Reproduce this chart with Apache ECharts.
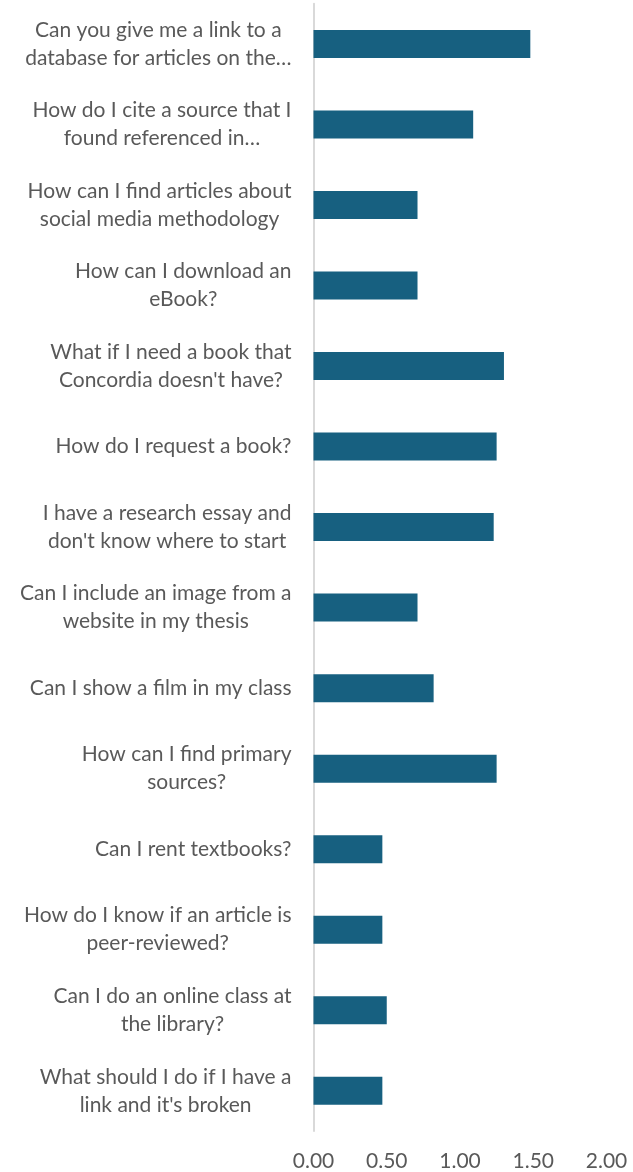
<!DOCTYPE html>
<html>
<head>
<meta charset="utf-8">
<style>
  html, body { margin: 0; padding: 0; background: #ffffff; }
  #chart { width: 633px; height: 1172px; }
</style>
<script src="https://cdn.jsdelivr.net/npm/echarts@6/dist/echarts.min.js"></script>
</head>
<body>
<div id="chart"></div>
<script>
// Questions, listed from top to bottom
var questions = [
  "Can you give me a link to a\ndatabase for articles on the…",
  "How do I cite a source that I\nfound referenced in…",
  "How can I find articles about\nsocial media methodology",
  "How can I download an\neBook?",
  "What if I need a book that\nConcordia doesn't have?",
  "How do I request a book?",
  "I have a research essay and\ndon't know where to start",
  "Can I include an image from a\nwebsite in my thesis",
  "Can I show a film in my class",
  "How can I find primary\nsources?",
  "Can I rent textbooks?",
  "How do I know if an article is\npeer-reviewed?",
  "Can I do an online class at\nthe library?",
  "What should I do if I have a\nlink and it's broken"
];

// Average score per question
var scores = [1.48, 1.09, 0.71, 0.71, 1.30, 1.25, 1.23, 0.71, 0.82, 1.25, 0.47, 0.47, 0.50, 0.47];

// Value axis range
var axisMin = 0;
var axisMax = 2;
var axisStep = 0.5;

var chart = echarts.init(document.getElementById('chart'), null, { renderer: 'canvas' });

var textColor = '#595959';
var fontFamily = 'Lato, "Open Sans", sans-serif';

chart.setOption({
  animation: false,
  backgroundColor: '#ffffff',
  grid: { left: 313.5, right: 26.5, top: 3.7, bottom: 40.4, containLabel: false },
  xAxis: {
    type: 'value',
    min: axisMin,
    max: axisMax,
    interval: axisStep,
    axisLine: { show: false },
    axisTick: { show: false },
    splitLine: { show: false },
    axisLabel: {
      color: textColor,
      fontFamily: fontFamily,
      fontSize: 21,
      margin: 20,
      formatter: function (v) { return v.toFixed(2); }
    }
  },
  yAxis: {
    type: 'category',
    inverse: true,
    data: questions,
    axisLine: { show: true, lineStyle: { color: '#d9d9d9', width: 2 } },
    axisTick: { show: false },
    splitLine: { show: false },
    axisLabel: {
      margin: 22,
      align: 'right',
      formatter: function (v) {
        return v.split('\n').map(function (line) { return '{c|' + line + '}'; }).join('\n');
      },
      rich: {
        c: {
          align: 'center',
          color: textColor,
          fontFamily: fontFamily,
          fontSize: 21,
          lineHeight: 28
        }
      }
    }
  },
  series: [{
    type: 'bar',
    data: scores,
    barWidth: 28,
    itemStyle: { color: '#176080' }
  }]
});
</script>
</body>
</html>
